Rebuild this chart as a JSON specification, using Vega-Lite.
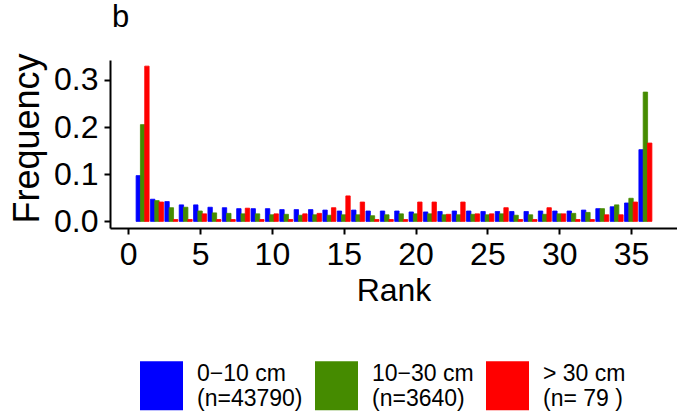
{
  "$schema": "https://vega.github.io/schema/vega-lite/v6.json",
  "width": 567,
  "height": 168,
  "autosize": "none",
  "padding": {"left": 110, "top": 60, "right": 0, "bottom": 185},
  "background": "white",
  "title": {"text": "b", "anchor": "start", "frame": "group", "fontSize": 31, "fontWeight": "normal", "font": "Liberation Sans", "color": "black", "baseline": "alphabetic", "offset": -5, "dx": 2},
  "config": {
    "view": {"stroke": null},
    "font": "Liberation Sans",
    "axis": {"grid": false, "domainColor": "black", "domainWidth": 2, "tickColor": "black", "tickWidth": 2, "tickSize": 6, "labelColor": "black", "titleColor": "black", "labelFontSize": 32, "titleFontSize": 32, "titleFontWeight": "normal", "labelFont": "Liberation Sans", "titleFont": "Liberation Sans"}
  },
  "data": {"values": [
    {"rank":1,"size":"0−10 cm","freq":0.097},{"rank":1,"size":"10−30 cm","freq":0.205},{"rank":1,"size":"> 30 cm","freq":0.329},
    {"rank":2,"size":"0−10 cm","freq":0.047},{"rank":2,"size":"10−30 cm","freq":0.044},{"rank":2,"size":"> 30 cm","freq":0.041},
    {"rank":3,"size":"0−10 cm","freq":0.042},{"rank":3,"size":"10−30 cm","freq":0.029},{"rank":3,"size":"> 30 cm","freq":0.004},
    {"rank":4,"size":"0−10 cm","freq":0.035},{"rank":4,"size":"10−30 cm","freq":0.030},{"rank":4,"size":"> 30 cm","freq":0.004},
    {"rank":5,"size":"0−10 cm","freq":0.035},{"rank":5,"size":"10−30 cm","freq":0.022},{"rank":5,"size":"> 30 cm","freq":0.016},
    {"rank":6,"size":"0−10 cm","freq":0.030},{"rank":6,"size":"10−30 cm","freq":0.018},{"rank":6,"size":"> 30 cm","freq":0.004},
    {"rank":7,"size":"0−10 cm","freq":0.029},{"rank":7,"size":"10−30 cm","freq":0.017},{"rank":7,"size":"> 30 cm","freq":0.004},
    {"rank":8,"size":"0−10 cm","freq":0.027},{"rank":8,"size":"10−30 cm","freq":0.016},{"rank":8,"size":"> 30 cm","freq":0.028},
    {"rank":9,"size":"0−10 cm","freq":0.027},{"rank":9,"size":"10−30 cm","freq":0.016},{"rank":9,"size":"> 30 cm","freq":0.004},
    {"rank":10,"size":"0−10 cm","freq":0.027},{"rank":10,"size":"10−30 cm","freq":0.014},{"rank":10,"size":"> 30 cm","freq":0.016},
    {"rank":11,"size":"0−10 cm","freq":0.025},{"rank":11,"size":"10−30 cm","freq":0.015},{"rank":11,"size":"> 30 cm","freq":0.004},
    {"rank":12,"size":"0−10 cm","freq":0.025},{"rank":12,"size":"10−30 cm","freq":0.013},{"rank":12,"size":"> 30 cm","freq":0.016},
    {"rank":13,"size":"0−10 cm","freq":0.025},{"rank":13,"size":"10−30 cm","freq":0.014},{"rank":13,"size":"> 30 cm","freq":0.017},
    {"rank":14,"size":"0−10 cm","freq":0.024},{"rank":14,"size":"10−30 cm","freq":0.013},{"rank":14,"size":"> 30 cm","freq":0.029},
    {"rank":15,"size":"0−10 cm","freq":0.022},{"rank":15,"size":"10−30 cm","freq":0.014},{"rank":15,"size":"> 30 cm","freq":0.054},
    {"rank":16,"size":"0−10 cm","freq":0.024},{"rank":16,"size":"10−30 cm","freq":0.014},{"rank":16,"size":"> 30 cm","freq":0.041},
    {"rank":17,"size":"0−10 cm","freq":0.022},{"rank":17,"size":"10−30 cm","freq":0.012},{"rank":17,"size":"> 30 cm","freq":0.004},
    {"rank":18,"size":"0−10 cm","freq":0.022},{"rank":18,"size":"10−30 cm","freq":0.014},{"rank":18,"size":"> 30 cm","freq":0.004},
    {"rank":19,"size":"0−10 cm","freq":0.022},{"rank":19,"size":"10−30 cm","freq":0.016},{"rank":19,"size":"> 30 cm","freq":0.004},
    {"rank":20,"size":"0−10 cm","freq":0.020},{"rank":20,"size":"10−30 cm","freq":0.016},{"rank":20,"size":"> 30 cm","freq":0.041},
    {"rank":21,"size":"0−10 cm","freq":0.020},{"rank":21,"size":"10−30 cm","freq":0.016},{"rank":21,"size":"> 30 cm","freq":0.041},
    {"rank":22,"size":"0−10 cm","freq":0.021},{"rank":22,"size":"10−30 cm","freq":0.014},{"rank":22,"size":"> 30 cm","freq":0.015},
    {"rank":23,"size":"0−10 cm","freq":0.022},{"rank":23,"size":"10−30 cm","freq":0.014},{"rank":23,"size":"> 30 cm","freq":0.041},
    {"rank":24,"size":"0−10 cm","freq":0.022},{"rank":24,"size":"10−30 cm","freq":0.015},{"rank":24,"size":"> 30 cm","freq":0.016},
    {"rank":25,"size":"0−10 cm","freq":0.021},{"rank":25,"size":"10−30 cm","freq":0.014},{"rank":25,"size":"> 30 cm","freq":0.016},
    {"rank":26,"size":"0−10 cm","freq":0.021},{"rank":26,"size":"10−30 cm","freq":0.016},{"rank":26,"size":"> 30 cm","freq":0.029},
    {"rank":27,"size":"0−10 cm","freq":0.021},{"rank":27,"size":"10−30 cm","freq":0.013},{"rank":27,"size":"> 30 cm","freq":0.004},
    {"rank":28,"size":"0−10 cm","freq":0.021},{"rank":28,"size":"10−30 cm","freq":0.014},{"rank":28,"size":"> 30 cm","freq":0.004},
    {"rank":29,"size":"0−10 cm","freq":0.022},{"rank":29,"size":"10−30 cm","freq":0.015},{"rank":29,"size":"> 30 cm","freq":0.029},
    {"rank":30,"size":"0−10 cm","freq":0.022},{"rank":30,"size":"10−30 cm","freq":0.016},{"rank":30,"size":"> 30 cm","freq":0.016},
    {"rank":31,"size":"0−10 cm","freq":0.022},{"rank":31,"size":"10−30 cm","freq":0.017},{"rank":31,"size":"> 30 cm","freq":0.004},
    {"rank":32,"size":"0−10 cm","freq":0.024},{"rank":32,"size":"10−30 cm","freq":0.019},{"rank":32,"size":"> 30 cm","freq":0.004},
    {"rank":33,"size":"0−10 cm","freq":0.027},{"rank":33,"size":"10−30 cm","freq":0.027},{"rank":33,"size":"> 30 cm","freq":0.014},
    {"rank":34,"size":"0−10 cm","freq":0.031},{"rank":34,"size":"10−30 cm","freq":0.035},{"rank":34,"size":"> 30 cm","freq":0.014},
    {"rank":35,"size":"0−10 cm","freq":0.039},{"rank":35,"size":"10−30 cm","freq":0.049},{"rank":35,"size":"> 30 cm","freq":0.041},
    {"rank":36,"size":"0−10 cm","freq":0.152},{"rank":36,"size":"10−30 cm","freq":0.274},{"rank":36,"size":"> 30 cm","freq":0.166}
  ]},
  "encoding": {
    "x": {"field": "rank", "type": "quantitative", "title": "Rank",
      "scale": {"domain": [-1.27, 38.2], "nice": false, "zero": false, "padding": 0},
      "axis": {"values": [0, 5, 10, 15, 20, 25, 30, 35], "labelPadding": 5, "titlePadding": 5, "labelFlush": false}},
    "y": {"field": "freq", "type": "quantitative", "title": "Frequency",
      "scale": {"domain": [-0.014, 0.342], "nice": false, "zero": false, "padding": 0},
      "axis": {"values": [0, 0.1, 0.2, 0.3], "format": ".1f", "labelPadding": 6, "titlePadding": 7, "titleFontSize": 36, "titleY": 78, "labelFlush": false}},
    "y2": {"datum": 0},
    "color": {"field": "size", "type": "nominal",
      "scale": {"domain": ["0−10 cm", "10−30 cm", "> 30 cm"], "range": ["#0000FF", "#458B00", "#FF0000"]},
      "legend": {"title": null, "orient": "none", "legendX": 30, "legendY": 304, "direction": "horizontal",
        "symbolType": "M-1,-1.14H1V1.14H-1Z", "symbolSize": 1849, "symbolStrokeWidth": 0, "symbolOpacity": 1,
        "labelFontSize": 23, "labelColor": "black", "labelFont": "Liberation Sans", "labelOffset": 14, "columnPadding": 12,
        "labelBaseline": "bottom",
        "labelExpr": "[datum.label, datum.label == '0−10 cm' ? '(n=43790)' : datum.label == '10−30 cm' ? '(n=3640)' : '(n= 79 )']"}}
  },
  "layer": [
    {"transform": [{"filter": "datum.size == '0−10 cm'"}], "mark": {"type": "bar", "width": 4.4, "xOffset": -4.3, "strokeWidth": 0.8, "stroke": "#0000FF"}},
    {"transform": [{"filter": "datum.size == '10−30 cm'"}], "mark": {"type": "bar", "width": 4.4, "xOffset": 0, "strokeWidth": 0.8, "stroke": "#458B00"}},
    {"transform": [{"filter": "datum.size == '> 30 cm'"}], "mark": {"type": "bar", "width": 4.4, "xOffset": 4.3, "strokeWidth": 0.8, "stroke": "#FF0000"}}
  ]
}
